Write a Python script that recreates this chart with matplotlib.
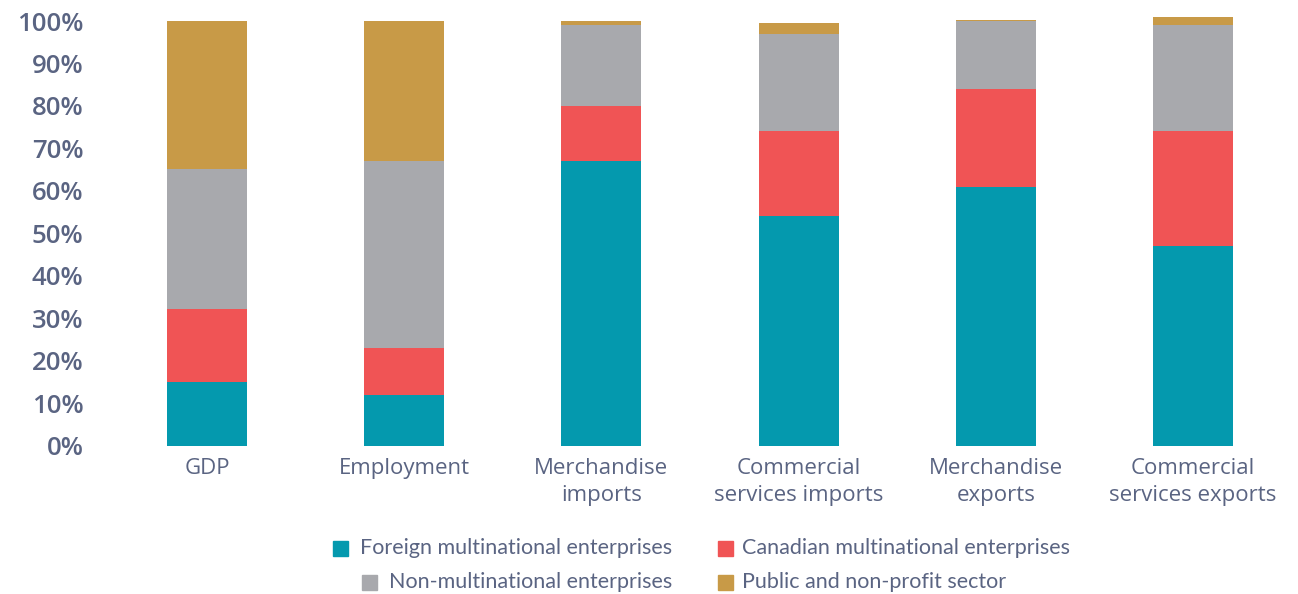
import matplotlib
matplotlib.use('Agg')
import matplotlib.pyplot as plt
from matplotlib.patches import Rectangle
import numpy as np

categories = ['GDP', 'Employment', 'Merchandise\nimports', 'Commercial\nservices imports',
              'Merchandise\nexports', 'Commercial\nservices exports']
foreign = [15.1, 11.9, 67.0, 54.2, 60.9, 47.1]
canadian = [17.1, 11.2, 13.0, 19.9, 23.1, 27.0]
non_mne = [33.0, 43.9, 19.1, 22.9, 16.0, 25.0]
public = [34.8, 33.0, 0.8, 2.5, 0.3, 1.9]
series_names = ['Foreign multinational enterprises', 'Canadian multinational enterprises',
                'Non-multinational enterprises', 'Public and non-profit sector']
yticks = [0, 10, 20, 30, 40, 50, 60, 70, 80, 90, 100]

colors = ['#0499ae', '#f05455', '#a8a9ad', '#c89a47']
text_color = '#5a6482'

fig = plt.figure(figsize=(12.98, 5.94), dpi=100)
ax = fig.add_axes([100 / 1298, 148.3 / 594, 1190 / 1298, 102 * 4.247 / 594])

x = np.arange(len(categories))
bottom = np.zeros(len(categories))
for vals, c, name in zip([foreign, canadian, non_mne, public], colors, series_names):
    ax.bar(x, vals, width=0.406, bottom=bottom, color=c, label=name)
    bottom += np.array(vals)

ax.set_xlim((100 - 207) / 197.2, (1290 - 207) / 197.2)
ax.set_ylim(0, 102)
ax.set_yticks(yticks)
ax.set_yticklabels([f'{t}%' for t in yticks], fontsize=18.5, fontweight='semibold',
                   color=text_color, family='Open Sans')
ax.set_xticks(x)
ax.set_xticklabels(categories, fontsize=16, color=text_color, family='Open Sans',
                   linespacing=1.35)
ax.tick_params(axis='both', length=0)
ax.tick_params(axis='y', pad=12)
ax.tick_params(axis='x', pad=9)
for s in ax.spines.values():
    s.set_visible(False)

# legend: first column right-aligned, second column left-aligned
renderer = fig.canvas.get_renderer()
W, H = 1298, 594
rows_y = [548, 582]
col1 = [series_names[0], series_names[2]]
col2 = [series_names[1], series_names[3]]
col1_colors = [colors[0], colors[2]]
col2_colors = [colors[1], colors[3]]
sq = 15
for ry, name, c in zip(rows_y, col1, col1_colors):
    t = fig.text(672 / W, 1 - ry / H, name, ha='right', va='center', fontsize=15.5,
                 color=text_color, family='Lato')
    bb = t.get_window_extent(renderer)
    fig.patches.append(Rectangle(((bb.x0 - 12 - sq) / W, (H - ry - sq / 2) / H), sq / W, sq / H,
                                 transform=fig.transFigure, color=c))
for ry, name, c in zip(rows_y, col2, col2_colors):
    fig.text(742 / W, 1 - ry / H, name, ha='left', va='center', fontsize=15.5,
             color=text_color, family='Lato')
    fig.patches.append(Rectangle((718 / W, (H - ry - sq / 2) / H), sq / W, sq / H,
                                 transform=fig.transFigure, color=c))

fig.savefig('out.png', dpi=100)
